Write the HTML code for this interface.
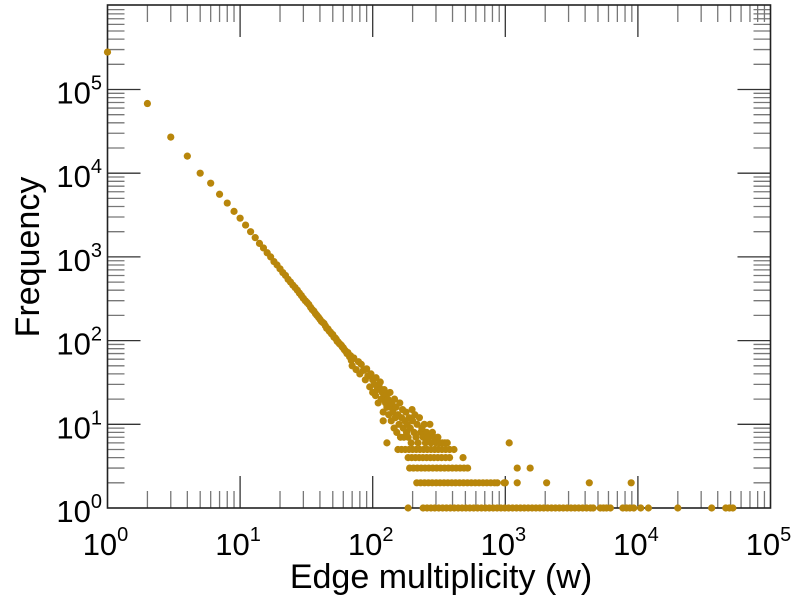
<!DOCTYPE html>
<html><head><meta charset="utf-8"><style>
html,body{margin:0;padding:0;background:#fff;}
svg{display:block;font-family:"Liberation Sans",sans-serif;}
</style></head><body>
<svg id="chart" width="803" height="600"></svg>
<script>
const xTickExps=[0,1,2,3,4,5];
const yTickExps=[0,1,2,3,4,5];
const headW=[1,2,3,4,5,6,7,8,9,10,11,12,13,14,15,16,17,18,19,20,21,22,23,24,25,26,27,28,29,30,31,32,33,34,35,36,37,38,39,40,41,42,43,44,45,46,47,48,49,50,51,52,53,54,55,56,57,58,59,60,61,62,63,64,65,66,67,68,69,70];
const headF=[280000,68000,27000,16000,10000,7600,5600,4400,3500,2900,2400,2000,1700,1450,1280,1120,1000,880,800,720,650,600,540,500,460,430,400,370,345,320,300,285,270,250,235,225,210,200,190,180,170,165,160,150,140,138,130,126,120,118,110,108,104,98,96,92,90,88,84,82,78,76,74,70,72,68,64,66,58,60];
const tailW=[70,72,75,78,80,82,85,88,90,92,95,97,100,100,103,105,106,108,110,112,114,116,118,120,120,122,125,126,128,128,130,132,135,136,138,140,142,145,146,148,150,152,155,158,160,162,165,168,170,172,175,178,180,182,185,188,192,195,198,200,205,208,212,216,220,225,230,235,240,245,250,255,262,270,275,282,290,300,310,320,335,350,365,1070];
const tailF=[50,62,45,56,40,52,44,34,46,38,28,40,24,34,30,22,36,26,18,28,32,20,24,14,11,26,18,22,16,6,20,13,24,16,11,18,14,9,20,12,16,8,13,10,18,7,12,15,9,7,11,14,8,10,7,12,9,6,15,11,8,13,7,10,6,12,8,9,7,10,6,8,7,10,6,8,7,6,7,6,6,6,6,6];
const row5W=[155,165,176,188,200,213,227,242,258,275,293,312,333,355,380,410];
const row4W=[185,197,210,224,239,255,272,290,310,331,355,380,480];
const row3W=[190,203,217,232,248,265,284,304,325,348,372,398,426,456,488,520,1230,1540];
const row2W=[215,230,246,263,281,301,322,345,369,395,422,452,484,518,554,593,634,679,726,777,831,870,980,1000,1230,2050,4300,8900];
const row1W=[185,240,257,275,294,315,337,360,385,412,441,472,505,540,578,618,661,707,757,810,867,927,992,1060,1135,1215,1300,1390,1488,1592,1703,1822,1950,2086,2232,2388,2555,2734,2925,3130,3349,3583,3834,4102,4389,4600,5200,5500,5800,6200,7700,8200,8700,9300,10500,12000,20000,36000,46000,49000,52000];

const NS="http://www.w3.org/2000/svg";
const svg=document.getElementById('chart');
const L=107.5,R=770.5,T=5,B=508;
const xDec=(R-L)/5, yDec=83.7;
function xs(w){return L+Math.log10(w)*xDec;}
function ys(f){return B-Math.log10(f)*yDec;}
function mk(tag,attrs){const e=document.createElementNS(NS,tag);for(const k in attrs)e.setAttribute(k,attrs[k]);svg.appendChild(e);return e;}

const tg=document.createElementNS(NS,'g');


svg.appendChild(tg);
function tick(x1,y1,x2,y2,minor){const l=document.createElementNS(NS,'line');l.setAttribute('x1',x1);l.setAttribute('y1',y1);l.setAttribute('x2',x2);l.setAttribute('y2',y2);l.setAttribute('stroke',minor?'#777':'#333');l.setAttribute('stroke-width','1.3');tg.appendChild(l);}
for(let d=0;d<5;d++){for(let m=1;m<10;m++){const x=xs(Math.pow(10,d)*m);const len=m===1?32:17;if(m===1&&d===0)continue;tick(x,B,x,B-len,m!==1);tick(x,T,x,T+len,m!==1);}}
for(let d=0;d<6;d++){for(let m=1;m<10;m++){const y=ys(Math.pow(10,d)*m);if(y<T)continue;const len=m===1?33:17;if(m===1&&d===0)continue;tick(L,y,L+len,y,m!==1);tick(R,y,R-len,y,m!==1);}}

const fr=mk('rect',{x:L,y:T,width:R-L,height:B-T,fill:'none',stroke:'#222','stroke-width':1.6});



xTickExps.forEach(e=>{const t=mk('text',{x:xs(Math.pow(10,e))-2,y:555,'font-size':31,'text-anchor':'middle',fill:'#000'});


t.innerHTML='10<tspan dy="-14" font-size="20">'+e+'</tspan>';});
yTickExps.forEach(e=>{const t=mk('text',{x:102,y:ys(Math.pow(10,e))+14,'font-size':31,'text-anchor':'end',fill:'#000'});


t.innerHTML='10<tspan dy="-14" font-size="20">'+e+'</tspan>';});

const xt=mk('text',{x:441,y:588,'font-size':34,'text-anchor':'middle',fill:'#000'});


xt.textContent='Edge multiplicity (w)';
const yt=mk('text',{x:0,y:0,'font-size':34,'text-anchor':'middle',fill:'#000',transform:'translate(39,257) rotate(-90)'});


yt.textContent='Frequency';

const pg=document.createElementNS(NS,'g');


svg.appendChild(pg);
function dot(w,f){const c=document.createElementNS(NS,'circle');c.setAttribute('cx',xs(w));c.setAttribute('cy',ys(f));c.setAttribute('r',3.6);c.setAttribute('fill','#b8860b');


pg.appendChild(c);}
headW.forEach((w,i)=>dot(w,headF[i]));
tailW.forEach((w,i)=>dot(w,tailF[i]));
row5W.forEach(w=>dot(w,5));
row4W.forEach(w=>dot(w,4));
row3W.forEach(w=>dot(w,3));
row2W.forEach(w=>dot(w,2));
row1W.forEach(w=>dot(w,1));
</script>
</body></html>
